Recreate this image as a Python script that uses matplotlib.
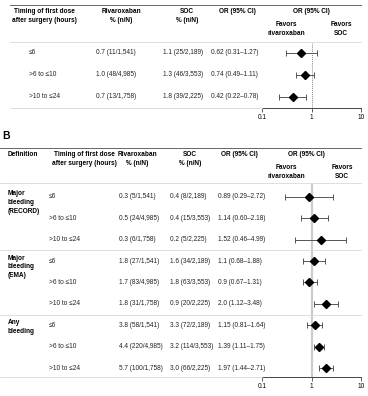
import matplotlib
matplotlib.use('Agg')
import matplotlib.pyplot as plt
from matplotlib.transforms import blended_transform_factory

plt.rcParams['font.family'] = ['Liberation Sans', 'DejaVu Sans']

# ---- Panel A data ----
a_timing = ['≤6', '>6 to ≤10', '>10 to ≤24']
a_riva = ['0.7 (11/1,541)', '1.0 (48/4,985)', '0.7 (13/1,758)']
a_soc = ['1.1 (25/2,189)', '1.3 (46/3,553)', '1.8 (39/2,225)']
a_or = [0.62, 0.74, 0.42]
a_lo = [0.31, 0.49, 0.22]
a_hi = [1.27, 1.11, 0.78]
a_or_txt = ['0.62 (0.31–1.27)', '0.74 (0.49–1.11)', '0.42 (0.22–0.78)']

# ---- Panel B data ----
b_defs = ['Major\nbleeding\n(RECORD)', 'Major\nbleeding\n(EMA)', 'Any\nbleeding']
b_timing = a_timing * 3
b_riva = ['0.3 (5/1,541)', '0.5 (24/4,985)', '0.3 (6/1,758)',
          '1.8 (27/1,541)', '1.7 (83/4,985)', '1.8 (31/1,758)',
          '3.8 (58/1,541)', '4.4 (220/4,985)', '5.7 (100/1,758)']
b_soc = ['0.4 (8/2,189)', '0.4 (15/3,553)', '0.2 (5/2,225)',
         '1.6 (34/2,189)', '1.8 (63/3,553)', '0.9 (20/2,225)',
         '3.3 (72/2,189)', '3.2 (114/3,553)', '3.0 (66/2,225)']
b_or = [0.89, 1.14, 1.52, 1.1, 0.9, 2.0, 1.15, 1.39, 1.97]
b_lo = [0.29, 0.60, 0.46, 0.68, 0.67, 1.12, 0.81, 1.11, 1.44]
b_hi = [2.72, 2.18, 4.99, 1.88, 1.31, 3.48, 1.64, 1.75, 2.71]
b_or_txt = ['0.89 (0.29–2.72)', '1.14 (0.60–2.18)', '1.52 (0.46–4.99)',
            '1.1 (0.68–1.88)', '0.9 (0.67–1.31)', '2.0 (1.12–3.48)',
            '1.15 (0.81–1.64)', '1.39 (1.11–1.75)', '1.97 (1.44–2.71)']

W, H = 368, 396
FS = 4.7
fig = plt.figure(figsize=(W / 100, H / 100), dpi=100)


def fx(x):
    return x / W


def fy(y):
    return 1 - y / H


def hline(y, x0, x1, color='#d9d9d9', lw=0.6):
    fig.add_artist(plt.Line2D([fx(x0), fx(x1)], [fy(y), fy(y)],
                              color=color, lw=lw, transform=fig.transFigure))


def head(x, y, s, ha='center'):
    fig.text(fx(x), fy(y), s, ha=ha, va='top', fontsize=FS,
             fontweight='bold', linespacing=1.35)


def forest(rect, ors, los, his, ylim, refstyle):
    ax = fig.add_axes(rect)
    rows = list(range(len(ors)))
    xerr = [[o - l for o, l in zip(ors, los)], [h - o for o, h in zip(ors, his)]]
    ax.axvline(1, **refstyle)
    ax.errorbar(ors, rows, xerr=xerr, fmt='D', color='black', ms=3.8,
                ecolor='#555555', elinewidth=0.7, capsize=2.3, capthick=0.7)
    ax.set_xscale('log')
    ax.set_xlim(0.1, 10)
    ax.set_ylim(*ylim)
    ax.set_xticks([0.1, 1, 10])
    ax.set_xticklabels(['0.1', '1', '10'])
    ax.minorticks_off()
    ax.set_yticks([])
    for s in ['top', 'left', 'right']:
        ax.spines[s].set_visible(False)
    ax.spines['bottom'].set_color('#444444')
    ax.spines['bottom'].set_linewidth(0.7)
    ax.tick_params(axis='x', labelsize=FS, length=3, width=0.6,
                   color='#444444', pad=1.5)
    ax.patch.set_alpha(0)
    return ax


# ---------------- Panel A ----------------
ax_a = forest([fx(262), fy(108), fx(361) - fx(262), (108 - 43) / H],
              a_or, a_lo, a_hi, (2.5, -0.45),
              dict(color='#888888', lw=0.7, ls=(0, (1, 1))))
tr_a = blended_transform_factory(fig.transFigure, ax_a.transData)

hline(5, 10, 361, color='#666666', lw=0.7)
hline(42, 10, 361)
hline(108, 10, 262)
head(44, 8, 'Timing of first dose\nafter surgery (hours)')
head(121, 8, 'Rivaroxaban\n% (n/N)')
head(187, 8, 'SOC\n% (n/N)')
head(237, 8, 'OR (95% CI)')
head(311, 8, 'OR (95% CI)')
head(286, 21, 'Favors\nrivaroxaban')
head(341, 21, 'Favors\nSOC')

for i in range(len(a_timing)):
    for x, s in [(29, a_timing[i]), (96, a_riva[i]), (163, a_soc[i]), (211, a_or_txt[i])]:
        ax_a.text(fx(x), i, s, transform=tr_a, ha='left', va='center',
                  fontsize=FS, color='#222222')

# ---------------- Panel B ----------------
fig.text(fx(2), fy(136), 'B', ha='left', va='center', fontsize=7.5,
         fontweight='bold')
ax_b = forest([fx(262), fy(377), fx(361) - fx(262), (377 - 183) / H],
              b_or, b_lo, b_hi, (8.42, -0.65),
              dict(color='#cccccc', lw=1.6))
tr_b = blended_transform_factory(fig.transFigure, ax_b.transData)

hline(148, 0, 361, color='#666666', lw=0.7)
hline(183, 0, 361)
hline(377, 0, 262)
head(8, 151, 'Definition', ha='left')
head(84, 151, 'Timing of first dose\nafter surgery (hours)')
head(137, 151, 'Rivaroxaban\n% (n/N)')
head(190, 151, 'SOC\n% (n/N)')
head(239, 151, 'OR (95% CI)')
head(306, 151, 'OR (95% CI)')
head(286, 164, 'Favors\nrivaroxaban')
head(342, 164, 'Favors\nSOC')

for g, d in enumerate(b_defs):
    ax_b.text(fx(8), 3 * g - 0.3, d, transform=tr_b, ha='left', va='top',
              fontsize=FS, fontweight='bold', linespacing=1.35)

for i in range(len(b_timing)):
    for x, s in [(49, b_timing[i]), (119, b_riva[i]), (170, b_soc[i]), (218, b_or_txt[i])]:
        ax_b.text(fx(x), i, s, transform=tr_b, ha='left', va='center',
                  fontsize=FS, color='#222222')

# group separators across the whole table width
for g in (1, 2):
    ax_b.plot([0, fx(361)], [3 * g - 0.5] * 2, transform=tr_b, color='#d9d9d9',
              lw=0.6, clip_on=False)

fig.savefig('out.png', dpi=100)
